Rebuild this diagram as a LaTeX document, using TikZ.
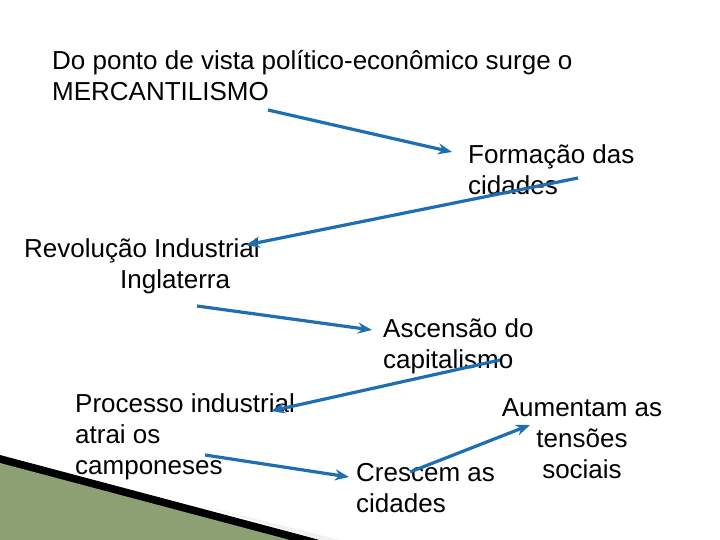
\documentclass[tikz,border=0pt]{standalone}
\usepackage{fontspec}
\usetikzlibrary{arrows.meta}
\setmainfont{Liberation Sans}
\definecolor{arr}{RGB}{30,110,180}
\definecolor{grn}{RGB}{140,160,115}
\begin{document}
\begin{tikzpicture}[x=1pt,y=-1pt,
  lbl/.style={anchor=north west,inner sep=0pt,font=\fontsize{26}{31}\selectfont,align=left},
  con/.style={draw=arr,line width=3.2pt,-{Stealth[length=14pt,width=11pt]}}]
\useasboundingbox[fill=white] (0,0) rectangle (720,540);
% decoration
\fill[black] (0,455) -- (320,540) -- (0,540) -- cycle;
\fill[grn] (0,463) -- (290,540) -- (0,540) -- cycle;
\fill[gray!12] (200,505) -- (320,540) -- (340,540) -- cycle;
\node[lbl] (t1) at (52,50) {Do ponto de vista político-econômico surge o\\MERCANTILISMO};
\node[lbl] (t2) at (468,144) {Formação das\\cidades};
\node[lbl] (t3) at (24,238) {Revolução Industrial\\\hspace*{96pt}Inglaterra};
\node[lbl] (t4) at (383,318) {Ascensão do\\capitalismo};
\node[lbl] (t5) at (75,393) {Processo industrial\\atrai os\\camponeses};
\node[lbl] (t6) at (356,463) {Crescem as\\cidades};
\node[lbl,align=center,anchor=north] (t7) at (582,398) {Aumentam as\\tensões\\sociais};
\coordinate (a1) at (268,110); \coordinate (b1) at (452,152);
\coordinate (a2) at (578,178); \coordinate (b2) at (246,245);
\coordinate (a3) at (197,306); \coordinate (b3) at (372,330);
\coordinate (a4) at (500,360); \coordinate (b4) at (271,411);
\coordinate (a5) at (205,455); \coordinate (b5) at (349,477);
\coordinate (a6) at (410,472); \coordinate (b6) at (530,425);
\foreach \i in {1,...,6}{\draw[con] (a\i) -- (b\i);}
\end{tikzpicture}
\end{document}
